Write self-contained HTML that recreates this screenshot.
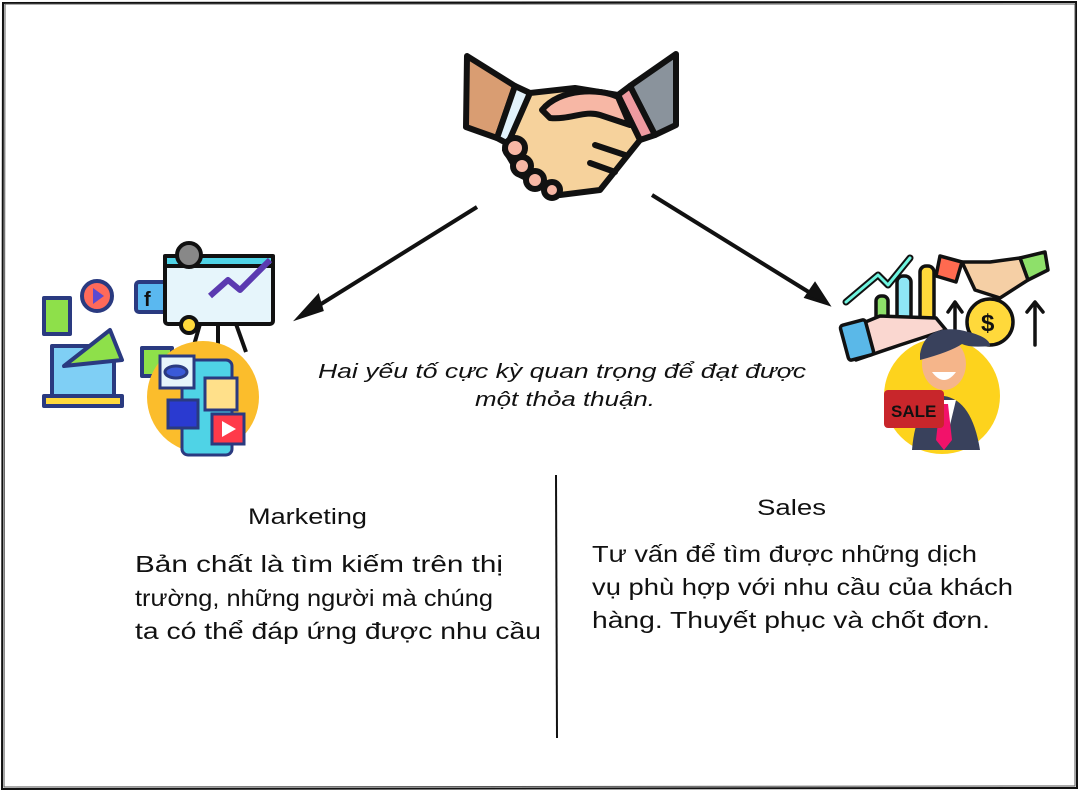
<!DOCTYPE html>
<html><head><meta charset="utf-8"><style>
html,body{margin:0;padding:0;background:#fff;}
svg{display:block}
text{font-family:"Liberation Sans","DejaVu Sans",sans-serif;fill:#111;}
</style></head><body>
<svg width="1080" height="791" viewBox="0 0 1080 791" xmlns="http://www.w3.org/2000/svg">
<rect x="0" y="0" width="1080" height="791" fill="#fff"/>
<path d="M3 3 L1076 2 L1077 788 L2 789 Z" fill="none" stroke="#111" stroke-width="2"/>
<path d="M5 4 L1075 4 L1075 786 L4 787 Z" fill="none" stroke="#555" stroke-width="1"/>

<line x1="477" y1="207" x2="305" y2="314" stroke="#111" stroke-width="4"/>
<path d="M298 318 L318 296 L322 310 Z" fill="#111" stroke="#111" stroke-width="3"/>
<line x1="652" y1="195" x2="820" y2="299" stroke="#111" stroke-width="4"/>
<path d="M828 304 L806 297 L815 284 Z" fill="#111" stroke="#111" stroke-width="3"/>
<line x1="556" y1="475" x2="557" y2="738" stroke="#111" stroke-width="2"/>

<g stroke="#111" stroke-width="6" stroke-linejoin="round" stroke-linecap="round">
<path d="M467 56 L515 86 L497 138 L466 127 Z" fill="#d99d72"/>
<path d="M515 86 L530 93 L510 145 L497 138 Z" fill="#e2f2fb"/>
<path d="M676 54 L630 86 L655 135 L676 125 Z" fill="#8a939c"/>
<path d="M630 86 L618 95 L640 140 L655 135 Z" fill="#ee9aa0"/>
<path d="M530 93 L575 88 L618 95 L640 140 L600 190 L560 195 L520 175 L505 150 Z" fill="#f6d29c"/>
<path d="M542 110 C560 88 600 88 618 97 L630 125 L600 115 C585 110 570 120 550 118 Z" fill="#f7b7a5"/>
<circle cx="515" cy="148" r="10" fill="#f7b7a5"/>
<circle cx="522" cy="166" r="9" fill="#f7b7a5"/>
<circle cx="535" cy="180" r="9" fill="#f7b7a5"/>
<circle cx="552" cy="190" r="8" fill="#f7b7a5"/>
<line x1="595" y1="145" x2="625" y2="155"/>
<line x1="590" y1="163" x2="615" y2="172"/>
</g>

<g stroke="#2a3a80" stroke-width="4" stroke-linejoin="round">
<rect x="44" y="298" width="26" height="36" fill="#8ee04a"/>
<circle cx="97" cy="296" r="15" fill="#ff6a5a"/>
<path d="M93 288 L104 296 L93 304 Z" fill="#5b4ad0" stroke="none"/>
<rect x="136" y="282" width="30" height="30" rx="3" fill="#5ab8f0"/>
<text x="144" y="306" font-size="20" font-weight="bold" fill="#2a3a80" stroke="none">f</text>
<rect x="52" y="346" width="62" height="50" fill="#7fcff5"/>
<rect x="44" y="396" width="78" height="10" fill="#ffd93b"/>
<path d="M64 366 L110 330 L122 360 Z" fill="#8ee04a"/>
<rect x="142" y="348" width="30" height="28" fill="#8ee04a"/>
</g>
<g stroke="#111" stroke-width="4" stroke-linejoin="round">
<rect x="165" y="256" width="108" height="68" rx="3" fill="#e6f5fb"/>
<rect x="165" y="256" width="108" height="10" fill="#4fd3e6"/>
<circle cx="189" cy="255" r="12" fill="#888"/>
<polyline points="210,296 228,280 240,290 270,260" fill="none" stroke="#5b3ab0" stroke-width="6"/>
<line x1="200" y1="324" x2="192" y2="352"/>
<line x1="218" y1="324" x2="218" y2="355"/>
<line x1="236" y1="324" x2="246" y2="352"/>
<circle cx="189" cy="325" r="8" fill="#ffd93b"/>
</g>
<circle cx="203" cy="397" r="56" fill="#fbbd2c"/>
<g stroke="#2a3a80" stroke-width="3">
<rect x="182" y="360" width="50" height="95" rx="6" fill="#4fd3e6"/>
<rect x="160" y="356" width="34" height="32" fill="#e6f5fb"/>
<ellipse cx="176" cy="372" rx="11" ry="6" fill="#3a5ad8"/>
<rect x="205" y="378" width="32" height="32" fill="#ffe08a"/>
<rect x="168" y="400" width="30" height="28" fill="#2a3ad0"/>
<rect x="212" y="414" width="32" height="30" fill="#ff3a4a"/>
<path d="M222 421 L236 429 L222 437 Z" fill="#fff" stroke="none"/>
</g>

<circle cx="942" cy="396" r="58" fill="#fdd31d"/>
<g stroke="#111" stroke-width="3.5" stroke-linejoin="round" stroke-linecap="round">
<polyline points="846,302 878,275 888,285 910,258" fill="none" stroke="#111" stroke-width="7"/>
<polyline points="846,302 878,275 888,285 910,258" fill="none" stroke="#6ff5e0" stroke-width="3"/>
<rect x="876" y="296" width="12" height="30" rx="5" fill="#8ee06a"/>
<rect x="897" y="276" width="14" height="52" rx="6" fill="#8ee6f5"/>
<rect x="920" y="266" width="14" height="66" rx="6" fill="#ffd93b"/>
<path d="M846 330 L880 316 L936 318 L946 330 L900 345 L856 360 Z" fill="#fad7d0"/>
<rect x="844" y="322" width="26" height="36" rx="3" fill="#5ab8e8" transform="rotate(-15 857 340)"/>
<path d="M940 256 L962 262 L956 282 L936 276 Z" fill="#ff6a50"/>
<path d="M1045 252 L1020 258 L1028 280 L1048 270 Z" fill="#8ee06a"/>
<path d="M962 262 L990 262 L1020 258 L1028 280 L1000 298 L975 290 Z" fill="#f5cfa5"/>
<circle cx="990" cy="322" r="23" fill="#ffd93b"/>
<text x="981" y="331" font-size="24" font-weight="bold" stroke="none" fill="#111">$</text>
<line x1="1035" y1="305" x2="1035" y2="345"/><polyline points="1027,312 1035,302 1043,312" fill="none"/>
<line x1="955" y1="305" x2="955" y2="330"/><polyline points="948,312 955,302 962,312" fill="none"/>
</g>
<path d="M912 450 Q916 400 944 396 Q972 400 980 450 Z" fill="#39415c"/>
<path d="M932 400 L944 450 L956 400 Z" fill="#fff"/>
<path d="M940 404 L948 404 L952 440 L944 450 L936 440 Z" fill="#f2126a"/>
<ellipse cx="944" cy="364" rx="22" ry="26" fill="#f5b58a"/>
<path d="M920 354 Q925 325 960 330 Q990 336 990 346 Q970 348 962 344 Q950 352 920 360 Z" fill="#39415c"/>
<path d="M932 372 Q944 388 956 372 Z" fill="#fff"/>
<rect x="884" y="390" width="60" height="38" rx="4" fill="#c8262b"/>
<text x="891" y="417" font-size="17" font-weight="bold" fill="#fff">SALE</text>

<g lengthAdjust="spacingAndGlyphs">
<text x="318" y="378" font-size="20" font-style="italic" textLength="488" lengthAdjust="spacingAndGlyphs">Hai yếu tố cực kỳ quan trọng để đạt được</text>
<text x="475" y="406" font-size="20" font-style="italic" textLength="180" lengthAdjust="spacingAndGlyphs">một thỏa thuận.</text>
<text x="248" y="524" font-size="22" textLength="119" lengthAdjust="spacingAndGlyphs">Marketing</text>
<text x="757" y="515" font-size="22" textLength="69" lengthAdjust="spacingAndGlyphs">Sales</text>
<text x="135" y="572" font-size="23" textLength="368" lengthAdjust="spacingAndGlyphs">Bản chất là tìm kiếm trên thị</text>
<text x="135" y="606" font-size="23" textLength="358" lengthAdjust="spacingAndGlyphs">trường, những người mà chúng</text>
<text x="135" y="639" font-size="23" textLength="406" lengthAdjust="spacingAndGlyphs">ta có thể đáp ứng được nhu cầu</text>
<text x="592" y="562" font-size="23" textLength="385" lengthAdjust="spacingAndGlyphs">Tư vấn để tìm được những dịch</text>
<text x="592" y="595" font-size="23" textLength="421" lengthAdjust="spacingAndGlyphs">vụ phù hợp với nhu cầu của khách</text>
<text x="592" y="628" font-size="23" textLength="398" lengthAdjust="spacingAndGlyphs">hàng. Thuyết phục và chốt đơn.</text>
</g>
</svg>
</body></html>
